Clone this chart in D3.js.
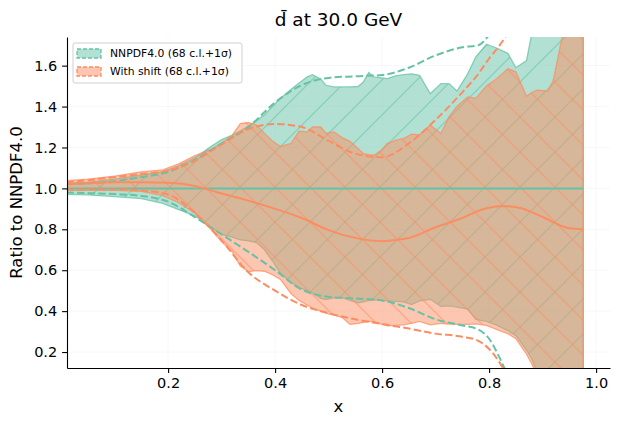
<!DOCTYPE html>
<html>
<head>
<meta charset="utf-8">
<script src="https://cdn.jsdelivr.net/npm/d3@7"></script>
<style>
  body { margin: 0; background: #fff; }
  text { font-family: "DejaVu Sans", sans-serif; fill: #000; }
</style>
</head>
<body>
<svg id="chart" width="619" height="424"></svg>
<script>
// x grid used by the two 68 c.l. bands (jagged)
var xBand = [0.01, 0.05, 0.1, 0.15, 0.19, 0.22, 0.25, 0.28, 0.3, 0.32, 0.335, 0.35, 0.365, 0.38, 0.395,
  0.41, 0.43, 0.445, 0.46, 0.47, 0.485, 0.495, 0.51, 0.525, 0.54, 0.555, 0.565, 0.575, 0.585, 0.6,
  0.61, 0.625, 0.64, 0.655, 0.67, 0.69, 0.71, 0.725, 0.74, 0.76, 0.775, 0.795, 0.815, 0.835, 0.85,
  0.87, 0.88, 0.89, 0.91, 0.92, 0.935, 0.95, 0.976];

// NNPDF4.0 68 c.l. band
var nnUp = [1.025, 1.03, 1.045, 1.065, 1.082, 1.11, 1.15, 1.205, 1.238, 1.26, 1.28, 1.305, 1.33, 1.36, 1.40,
  1.44, 1.485, 1.515, 1.545, 1.556, 1.535, 1.504, 1.496, 1.496, 1.496, 1.498, 1.52, 1.566, 1.545, 1.54,
  1.537, 1.55, 1.556, 1.56, 1.553, 1.463, 1.512, 1.512, 1.476, 1.56, 1.642, 1.705, 1.685, 1.66, 1.59,
  1.625, 1.76, 1.85, 1.95, 2.0, 2.05, 2.1, 2.2];
var nnLo = [0.971, 0.968, 0.96, 0.95, 0.927, 0.896, 0.866, 0.81, 0.775, 0.762, 0.748, 0.744, 0.735, 0.70, 0.645,
  0.585, 0.54, 0.515, 0.50, 0.49, 0.462, 0.456, 0.465, 0.466, 0.452, 0.44, 0.445, 0.452, 0.455, 0.452,
  0.45, 0.448, 0.445, 0.432, 0.45, 0.458, 0.423, 0.426, 0.42, 0.41, 0.36, 0.35, 0.33, 0.305, 0.28,
  0.21, 0.165, 0.1, -0.05, -0.1, -0.2, -0.3, -0.5];

// With shift 68 c.l. band
var shUp = [1.037, 1.045, 1.06, 1.081, 1.09, 1.12, 1.16, 1.19, 1.22, 1.26, 1.317, 1.322, 1.31, 1.27, 1.232,
  1.205, 1.22, 1.28, 1.276, 1.30, 1.30, 1.27, 1.276, 1.248, 1.23, 1.195, 1.17, 1.165, 1.162, 1.19,
  1.22, 1.235, 1.244, 1.265, 1.262, 1.309, 1.268, 1.35, 1.40, 1.447, 1.44, 1.50, 1.537, 1.585, 1.57,
  1.45, 1.47, 1.48, 1.476, 1.528, 1.72, 1.9, 2.1];
var shLo = [0.99, 0.99, 0.99, 0.985, 0.965, 0.93, 0.88, 0.80, 0.74, 0.69, 0.62, 0.593, 0.598, 0.595, 0.578,
  0.555, 0.485, 0.452, 0.43, 0.415, 0.40, 0.39, 0.38, 0.37, 0.335, 0.34, 0.345, 0.35, 0.348, 0.335,
  0.328, 0.33, 0.333, 0.34, 0.35, 0.333, 0.34, 0.337, 0.335, 0.335, 0.338, 0.33, 0.31, 0.29, 0.265,
  0.19, 0.14, 0.08, -0.1, -0.2, -0.3, -0.4, -0.6];

// x grid for the smooth central and 1 sigma curves
var xLine = [0.01, 0.05, 0.1, 0.15, 0.2, 0.25, 0.3, 0.35, 0.4, 0.45, 0.5, 0.55, 0.6, 0.65, 0.7, 0.75,
  0.78, 0.8, 0.82, 0.84, 0.86, 0.9, 0.95, 0.976];
var nnMid = xLine.map(function () { return 1.0; });   // ratio of NNPDF4.0 to itself
var shMid = [1.02, 1.025, 1.03, 1.03, 1.027, 1.012, 0.975, 0.94, 0.9, 0.855, 0.796, 0.758, 0.742, 0.757, 0.81, 0.855,
  0.89, 0.905, 0.913, 0.912, 0.903, 0.86, 0.805, 0.80];
var nnSigUp = [1.02, 1.025, 1.035, 1.055, 1.08, 1.14, 1.22, 1.30, 1.42, 1.505, 1.54, 1.548, 1.554, 1.59, 1.65, 1.69,
  1.70, 1.75, 1.83, 1.92, 2.0, 2.1, 2.2, 2.25];
var nnSigLo = [0.98, 0.977, 0.972, 0.963, 0.935, 0.86, 0.775, 0.69, 0.60, 0.505, 0.47, 0.462, 0.452, 0.415, 0.36, 0.33,
  0.31, 0.265, 0.17, 0.05, -0.1, -0.3, -0.5, -0.6];
var shSigUp = [1.03, 1.04, 1.055, 1.07, 1.087, 1.135, 1.215, 1.29, 1.315, 1.30, 1.232, 1.17, 1.152, 1.22, 1.335, 1.47,
  1.56, 1.635, 1.70, 1.78, 1.86, 2.0, 2.2, 2.3];
var shSigLo = [0.995, 0.995, 0.995, 0.99, 0.97, 0.88, 0.745, 0.59, 0.50, 0.43, 0.39, 0.36, 0.337, 0.315, 0.29, 0.275,
  0.255, 0.215, 0.147, 0.05, -0.1, -0.3, -0.5, -0.6];

var xTicks = [0.2, 0.4, 0.6, 0.8, 1.0];
var yTicks = [0.2, 0.4, 0.6, 0.8, 1.0, 1.2, 1.4, 1.6];
var legendLabels = ['NNPDF4.0 (68 c.l.+1\u03c3)', 'With shift (68 c.l.+1\u03c3)'];

var green = '#66c2a5', orange = '#fc8d62';
var margin = { top: 37, right: 9, bottom: 56, left: 67 }
  , width = 619 - margin.left - margin.right
  , height = 424 - margin.top - margin.bottom;

var svg = d3.select('#chart');
var defs = svg.append('defs');

defs.append('clipPath').attr('id', 'plotclip')
  .append('rect').attr('width', width).attr('height', height);

// hatch patterns: '/' for NNPDF4.0, '\' for the shifted fit
var hatchStep = 35;
var ne = defs.append('pattern').attr('id', 'hatch-ne')
  .attr('patternUnits', 'userSpaceOnUse')
  .attr('width', hatchStep).attr('height', hatchStep)
  .attr('patternTransform', 'translate(8,0)');
ne.append('path')
  .attr('d', 'M-5,5L5,-5M0,' + hatchStep + 'L' + hatchStep + ',0M' + (hatchStep - 5) + ',' + (hatchStep + 5) + 'L' + (hatchStep + 5) + ',' + (hatchStep - 5))
  .attr('stroke', green).attr('stroke-opacity', 0.55).attr('stroke-width', 1.3);
var nw = defs.append('pattern').attr('id', 'hatch-nw')
  .attr('patternUnits', 'userSpaceOnUse')
  .attr('width', hatchStep).attr('height', hatchStep)
  .attr('patternTransform', 'translate(' + (18 - margin.left + margin.top) + ',0)');
nw.append('path')
  .attr('d', 'M0,0L' + hatchStep + ',' + hatchStep + 'M-5,' + (hatchStep - 5) + 'L5,' + (hatchStep + 5) + 'M' + (hatchStep - 5) + ',-5L' + (hatchStep + 5) + ',5')
  .attr('stroke', orange).attr('stroke-opacity', 0.55).attr('stroke-width', 1.3);

var g = svg.append('g')
  .attr('transform', 'translate(' + margin.left + ',' + margin.top + ')');

var x = d3.scaleLinear().domain([0.011, 1.026]).range([0, width]);
var y = d3.scaleLinear().domain([0.122, 1.74]).range([height, 0]);

// faint grid
var grid = g.append('g').attr('class', 'grid');
grid.selectAll('line.gx').data(xTicks).enter().append('line')
  .attr('x1', function (d) { return x(d); }).attr('x2', function (d) { return x(d); })
  .attr('y1', 0).attr('y2', height);
grid.selectAll('line.gy').data(yTicks).enter().append('line')
  .attr('y1', function (d) { return y(d); }).attr('y2', function (d) { return y(d); })
  .attr('x1', 0).attr('x2', width);
grid.selectAll('line').attr('stroke', '#000').attr('stroke-opacity', 0.045).attr('stroke-width', 0.8);

var plot = g.append('g').attr('clip-path', 'url(#plotclip)');

function band(up, lo, color, hatch) {
  var pts = xBand.map(function (d, i) { return [d, lo[i], up[i]]; });
  var area = d3.area()
    .x(function (d) { return x(d[0]); })
    .y0(function (d) { return y(d[1]); })
    .y1(function (d) { return y(d[2]); });
  plot.append('path').datum(pts).attr('d', area)
    .attr('fill', color).attr('fill-opacity', 0.5);
  plot.append('path').datum(pts).attr('d', area)
    .attr('fill', 'url(#' + hatch + ')');
  plot.append('path').datum(pts).attr('d', area)
    .attr('fill', 'none').attr('stroke', color)
    .attr('stroke-opacity', 0.75).attr('stroke-width', 1.3);
}

band(nnUp, nnLo, green, 'hatch-ne');
band(shUp, shLo, orange, 'hatch-nw');

var line = d3.line()
  .x(function (d) { return x(d[0]); })
  .y(function (d) { return y(d[1]); })
  .curve(d3.curveMonotoneX);

function curve(vals, color, dashed) {
  plot.append('path')
    .datum(xLine.map(function (d, i) { return [d, vals[i]]; }))
    .attr('d', line)
    .attr('fill', 'none')
    .attr('stroke', color)
    .attr('stroke-width', 2)
    .attr('stroke-dasharray', dashed ? '7.4,3.2' : null);
}

curve(nnMid, green, false);
curve(nnSigUp, green, true);
curve(nnSigLo, green, true);
curve(shMid, orange, false);
curve(shSigUp, orange, true);
curve(shSigLo, orange, true);

// axes
var xAxis = g.append('g')
  .attr('transform', 'translate(0,' + height + ')')
  .call(d3.axisBottom(x).tickValues(xTicks).tickFormat(d3.format('.1f'))
    .tickSize(4.9).tickPadding(4.9).tickSizeOuter(0));
var yAxis = g.append('g')
  .call(d3.axisLeft(y).tickValues(yTicks).tickFormat(d3.format('.1f'))
    .tickSize(4.9).tickPadding(4.9).tickSizeOuter(0));
[xAxis, yAxis].forEach(function (a) {
  a.select('.domain').attr('stroke-width', 1.1);
  a.selectAll('.tick line').attr('stroke-width', 1.1);
  a.selectAll('.tick text')
    .style('font-family', '"DejaVu Sans", sans-serif')
    .style('font-size', '14.5px');
});

// labels and title
g.append('text')
  .attr('x', width / 2).attr('y', -11)
  .attr('text-anchor', 'middle')
  .style('font-size', '18.5px')
  .text('d\u0304 at 30.0 GeV');

g.append('text')
  .attr('x', width / 2).attr('y', height + 44)
  .attr('text-anchor', 'middle')
  .style('font-size', '16.5px')
  .text('x');

g.append('text')
  .attr('transform', 'translate(' + (-45) + ',' + (height / 2) + ') rotate(-90)')
  .attr('text-anchor', 'middle')
  .style('font-size', '16.5px')
  .text('Ratio to NNPDF4.0');

// legend
var legend = g.append('g').attr('transform', 'translate(6,6)');
legend.append('rect')
  .attr('width', 169).attr('height', 40).attr('rx', 2)
  .attr('fill', '#fff').attr('fill-opacity', 0.8)
  .attr('stroke', '#d0d0d0').attr('stroke-width', 1);
var rows = legend.selectAll('g.row')
  .data([green, orange])
  .enter().append('g')
  .attr('transform', function (d, i) { return 'translate(4,' + (10.5 + i * 18) + ')'; });
rows.append('rect')
  .attr('x', 0).attr('y', -4.5).attr('width', 24).attr('height', 9)
  .attr('fill', function (d) { return d; }).attr('fill-opacity', 0.5)
  .attr('stroke', function (d) { return d; }).attr('stroke-width', 1.3)
  .attr('stroke-dasharray', '4,2');
rows.append('text')
  .attr('x', 33).attr('y', 0).attr('dy', '0.35em')
  .style('font-size', '10.8px')
  .text(function (d, i) { return legendLabels[i]; });
</script>
</body>
</html>
